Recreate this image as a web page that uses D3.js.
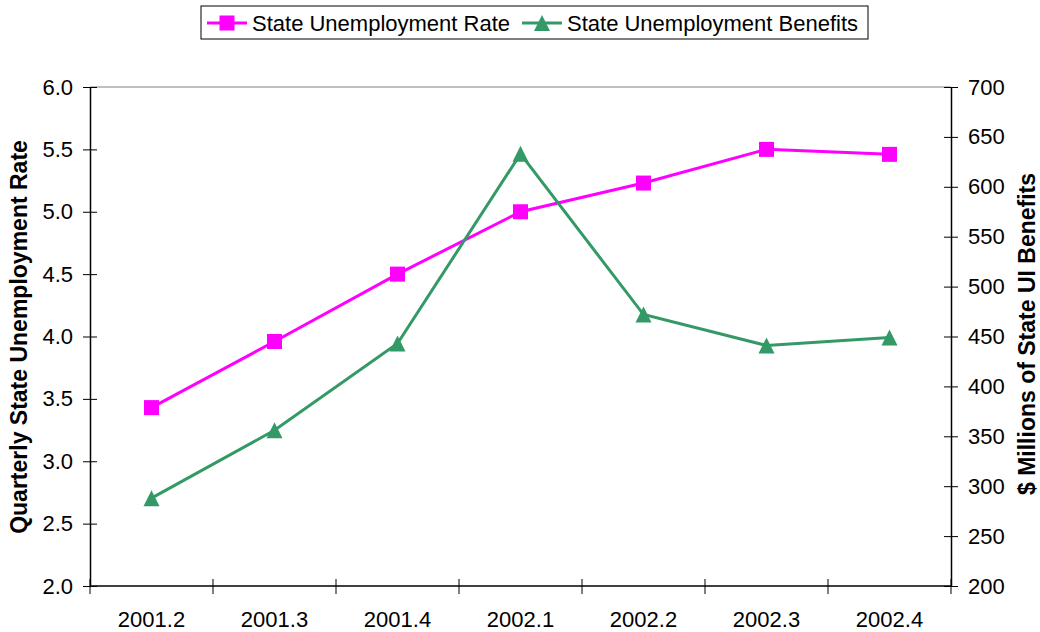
<!DOCTYPE html>
<html><head><meta charset="utf-8">
<script src="https://cdn.jsdelivr.net/npm/d3@7"></script>
<style>body{margin:0;background:#fff;} svg{display:block;font-family:"Liberation Sans",Arial,sans-serif;}</style>
</head><body>
<svg id="c" width="1040" height="632"></svg>
<script>
const categories = ["2001.2","2001.3","2001.4","2002.1","2002.2","2002.3","2002.4"];
const rateValues = [3.43, 3.96, 4.50, 5.00, 5.23, 5.50, 5.46];
const benefitValues = [288, 356, 443, 633, 472, 441, 449];
const leftTicks = [2.0,2.5,3.0,3.5,4.0,4.5,5.0,5.5,6.0];
const rightTicks = [200,250,300,350,400,450,500,550,600,650,700];
const seriesNames = ["State Unemployment Rate","State Unemployment Benefits"];

const svg = d3.select("#c");
const L=90, R=951, T=87, B=586;
const x = d3.scaleBand().domain(categories).range([L,R]);
const yL = d3.scaleLinear().domain([2,6]).range([B,T]);
const yR = d3.scaleLinear().domain([200,700]).range([B,T]);
const pink="#FF00FF", green="#339966";
const FS = 22;

// top border
svg.append("line").attr("x1",L).attr("x2",R).attr("y1",T).attr("y2",T).attr("stroke","#808080").attr("stroke-width",1);

// left axis
const gl = svg.append("g").attr("transform",`translate(${L},0)`)
  .call(d3.axisLeft(yL).tickValues(leftTicks).tickFormat(d3.format(".1f")).tickSizeInner(7).tickSizeOuter(0).tickPadding(10));
gl.selectAll(".tick line").attr("x2",7).attr("x1",-7);
// right axis
const gr = svg.append("g").attr("transform",`translate(${R},0)`)
  .call(d3.axisRight(yR).tickValues(rightTicks).tickFormat(d3.format("d")).tickSizeInner(7).tickSizeOuter(0).tickPadding(10));
gr.selectAll(".tick line").attr("x1",-7).attr("x2",7);
// bottom axis with ticks at category boundaries
const bounds = categories.map(c=>x(c)).concat([R]);
const gb = svg.append("g").attr("transform",`translate(0,${B})`);
gb.append("line").attr("x1",L).attr("x2",R).attr("stroke","#000").attr("stroke-width",1.5);
gb.selectAll("line.t").data(bounds).join("line").attr("class","t")
  .attr("x1",d=>d).attr("x2",d=>d).attr("y1",-7).attr("y2",8).attr("stroke","#000");
gb.selectAll("text").data(categories).join("text")
  .attr("x",d=>x(d)+x.bandwidth()/2).attr("y",41).attr("text-anchor","middle")
  .attr("font-size",FS).text(d=>d);

[gl,gr].forEach(g=>{
  g.select(".domain").attr("stroke","#000").attr("stroke-width",1.5);
  g.selectAll(".tick line").attr("stroke","#000");
  g.selectAll(".tick text").attr("font-size",FS).attr("fill","#000").attr("font-family","Liberation Sans, Arial, sans-serif");
});

// axis titles
svg.append("text").attr("transform",`translate(27,337) rotate(-90)`).attr("text-anchor","middle")
  .attr("font-size",23).attr("font-weight","bold").text("Quarterly State Unemployment Rate");
svg.append("text").attr("transform",`translate(1035,334) rotate(-90)`).attr("text-anchor","middle")
  .attr("font-size",23).attr("font-weight","bold").text("$ Millions of State UI Benefits");

const cx = d=>x(d)+x.bandwidth()/2;
// rate line
svg.append("path").datum(categories.map((c,i)=>[cx(c),yL(rateValues[i])]))
  .attr("d",d3.line()).attr("fill","none").attr("stroke",pink).attr("stroke-width",3);
// benefits line
svg.append("path").datum(categories.map((c,i)=>[cx(c),yR(benefitValues[i])]))
  .attr("d",d3.line()).attr("fill","none").attr("stroke",green).attr("stroke-width",3);

const sq = d3.symbol().type(d3.symbolSquare).size(225);
const triPath = "M0,-8L8,8L-8,8Z";
svg.selectAll("path.sq").data(categories).join("path").attr("class","sq")
  .attr("transform",(c,i)=>`translate(${cx(c)},${yL(rateValues[i])})`).attr("d",sq).attr("fill",pink);
svg.selectAll("path.tr").data(categories).join("path").attr("class","tr")
  .attr("transform",(c,i)=>`translate(${cx(c)},${yR(benefitValues[i])})`).attr("d",triPath).attr("fill",green);

// legend
const lg = svg.append("g");
lg.append("rect").attr("x",201).attr("y",6).attr("width",667).attr("height",33).attr("fill","#fff").attr("stroke","#000").attr("stroke-width",1);
lg.append("line").attr("x1",207).attr("x2",247).attr("y1",23).attr("y2",23).attr("stroke",pink).attr("stroke-width",3);
lg.append("path").attr("transform","translate(227,23)").attr("d",sq).attr("fill",pink);
lg.append("text").attr("x",252).attr("y",31).attr("font-size",FS).text(seriesNames[0]);
lg.append("line").attr("x1",522).attr("x2",562).attr("y1",23).attr("y2",23).attr("stroke",green).attr("stroke-width",3);
lg.append("path").attr("transform","translate(542,23)").attr("d",triPath).attr("fill",green);
lg.append("text").attr("x",567).attr("y",31).attr("font-size",FS).text(seriesNames[1]);
</script>
</body></html>
